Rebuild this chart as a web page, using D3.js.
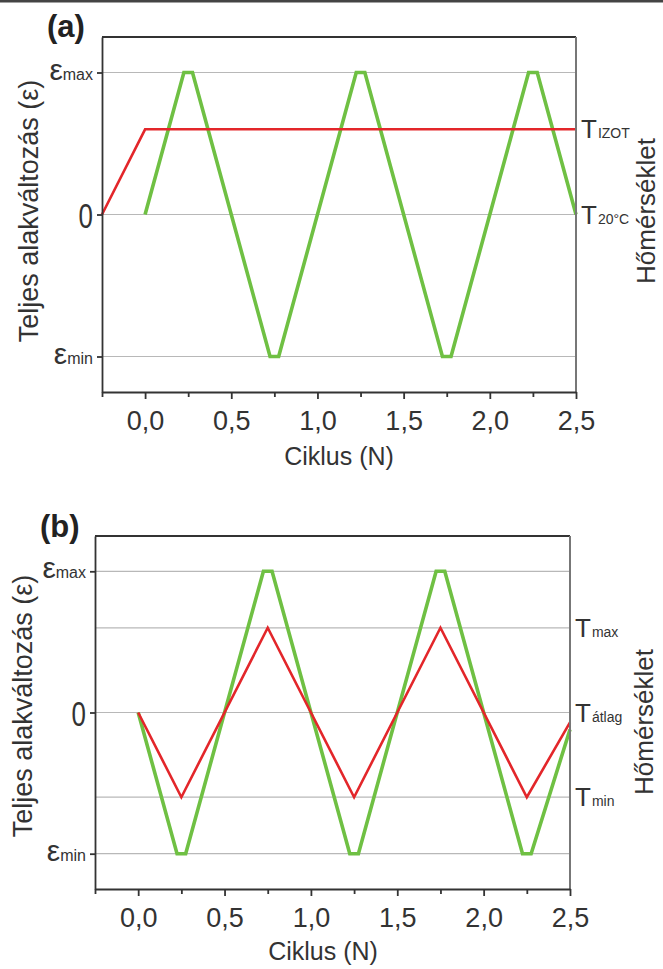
<!DOCTYPE html>
<html>
<meta charset="utf-8">
<style>
body { margin: 0; background: #fff; }
svg { display: block; font-family: "Liberation Sans", Arial, sans-serif; }
.axis path, .axis line { stroke: #333; stroke-width: 1.8; }
.grid line { stroke: #b8b8b8; stroke-width: 1.2; }
</style>
<body>
<script src="https://d3js.org/d3.v7.min.js"></script>
<script>
// y values are normalised: eps max = 1, eps min = -1
var xTicksMajor = [0, 0.5, 1, 1.5, 2, 2.5];
var xTicksMinor = [-0.25, 0.25, 0.75, 1.25, 1.75, 2.25];

// (a) izoterm
var cycleStrainA = [0, 0.225, 0.275, 0.725, 0.775, 1.225, 1.275, 1.725, 1.775, 2.225, 2.275, 2.5];
var strainA      = [0, 1, 1, -1, -1, 1, 1, -1, -1, 1, 1, 0];
var cycleTempA   = [-0.25, 0, 2.5];
var tempA        = [0, 0.6, 0.6];
var gridA        = [1, 0, -1];
var rightLabelsA = [{v: 0.6, sub: "IZOT"}, {v: 0, sub: "20°C"}];

// (b) termomechanikus
var cycleStrainB = [0, 0.225, 0.275, 0.725, 0.775, 1.225, 1.275, 1.725, 1.775, 2.225, 2.275, 2.5];
var strainB      = [0, -1, -1, 1, 1, -1, -1, 1, 1, -1, -1, -0.12];
var cycleTempB   = [0, 0.25, 0.75, 1.25, 1.75, 2.25, 2.5];
var tempB        = [0, -0.6, 0.6, -0.6, 0.6, -0.6, -0.07];
var gridB        = [1, 0.6, 0, -0.6, -1];
var rightLabelsB = [{v: 0.6, sub: "max"}, {v: 0, sub: "átlag"}, {v: -0.6, sub: "min"}];

var leftLabels = [{v: 1, sub: "max"}, {v: 0, sub: ""}, {v: -1, sub: "min"}];

var W = 663, H = 969;
var svg = d3.select("body").append("svg").attr("width", W).attr("height", H);

svg.append("rect").attr("x", 0).attr("y", 0).attr("width", W).attr("height", 2.5).attr("fill", "#444");

var locale = d3.formatLocale({decimal: ",", thousands: ".", grouping: [3], currency: ["", ""]});
var fmt = locale.format(".1f");

function panel(o) {
  var x = d3.scaleLinear().domain([-0.25, 2.5]).range([o.left, o.right]);
  var y = d3.scaleLinear().domain([-1.25, 1.25]).range([o.bottom, o.top]);
  var g = svg.append("g");

  g.append("g").attr("class", "grid")
    .selectAll("line").data(o.grid).join("line")
      .attr("x1", o.left).attr("x2", o.right)
      .attr("y1", function(d) { return y(d); })
      .attr("y2", function(d) { return y(d); });

  var line = d3.line().x(function(d) { return x(d[0]); }).y(function(d) { return y(d[1]); });

  g.append("path").datum(d3.zip(o.strainX, o.strainY))
    .attr("d", line).attr("fill", "none")
    .attr("stroke", "#6fc043").attr("stroke-width", 3.6).attr("stroke-linejoin", "miter");

  g.append("path").datum(d3.zip(o.tempX, o.tempY))
    .attr("d", line).attr("fill", "none")
    .attr("stroke", "#e3262a").attr("stroke-width", 2.6);

  // frame
  g.append("line").attr("x1", o.left).attr("x2", o.right).attr("y1", o.top).attr("y2", o.top)
    .attr("stroke", "#333").attr("stroke-width", 2);
  g.append("line").attr("x1", o.right).attr("x2", o.right).attr("y1", o.top).attr("y2", o.bottom)
    .attr("stroke", "#777").attr("stroke-width", 2);

  // x axis
  var xa = g.append("g").attr("class", "axis")
    .attr("transform", "translate(0," + o.bottom + ")")
    .call(d3.axisBottom(x).tickValues(xTicksMajor).tickSize(7).tickSizeOuter(0).tickFormat(fmt));
  xa.selectAll("text").attr("fill", "#333").attr("font-size", 27).attr("dy", null).attr("y", 38);
  g.append("g").attr("class", "axis")
    .attr("transform", "translate(0," + o.bottom + ")")
    .call(d3.axisBottom(x).tickValues(xTicksMinor).tickSize(5).tickFormat(""))
    .select(".domain").remove();

  // y axis
  var ya = g.append("g").attr("class", "axis")
    .attr("transform", "translate(" + o.left + ",0)")
    .call(d3.axisLeft(y).tickValues([-1, 0, 1]).tickSize(5).tickSizeOuter(0).tickFormat(""));
  ya.selectAll(".tick text").remove();

  leftLabels.forEach(function(l) {
    if (l.sub === "") {
      g.append("text")
        .attr("transform", "translate(" + (o.left - 9) + "," + (y(l.v) + 13) + ") scale(0.72,1)")
        .attr("text-anchor", "end").attr("fill", "#333").attr("font-size", 36)
        .text("0");
    } else {
      var t = g.append("text")
        .attr("x", o.left - 9).attr("y", y(l.v) + 7)
        .attr("text-anchor", "end").attr("fill", "#333");
      t.append("tspan").attr("font-size", 30).text("ε");
      t.append("tspan").attr("font-size", 16).text(l.sub);
    }
  });

  o.rightLabels.forEach(function(l) {
    var t = g.append("text")
      .attr("x", o.right + 5).attr("y", y(l.v) + 9)
      .attr("fill", "#333");
    t.append("tspan").attr("font-size", 26).text("T");
    t.append("tspan").attr("font-size", 14).attr("dx", 1).text(l.sub);
  });

  // titles
  g.append("text")
    .attr("x", o.labelX).attr("y", o.labelY)
    .attr("font-size", 31).attr("font-weight", "bold").attr("fill", "#222")
    .text(o.label);

  g.append("text")
    .attr("x", o.xTitleX).attr("y", o.xTitleY)
    .attr("text-anchor", "middle").attr("font-size", 25).attr("fill", "#333")
    .text("Ciklus (N)");

  g.append("text")
    .attr("transform", "translate(" + o.yTitleX + "," + o.yTitleY + ") rotate(-90)")
    .attr("text-anchor", "middle").attr("font-size", 27).attr("fill", "#333")
    .text("Teljes alakváltozás (ε)");

  g.append("text")
    .attr("transform", "translate(" + o.rTitleX + "," + o.rTitleY + ") rotate(-90)")
    .attr("text-anchor", "middle").attr("font-size", 26).attr("fill", "#333")
    .text("Hőmérséklet");
}

panel({
  left: 102, right: 576, top: 37, bottom: 392,
  strainX: cycleStrainA, strainY: strainA, tempX: cycleTempA, tempY: tempA,
  grid: gridA, rightLabels: rightLabelsA,
  label: "(a)", labelX: 47, labelY: 37,
  xTitleX: 339, xTitleY: 465,
  yTitleX: 38, yTitleY: 211,
  rTitleX: 655, rTitleY: 211
});

panel({
  left: 95, right: 570, top: 536, bottom: 889,
  strainX: cycleStrainB, strainY: strainB, tempX: cycleTempB, tempY: tempB,
  grid: gridB, rightLabels: rightLabelsB,
  label: "(b)", labelX: 40, labelY: 537,
  xTitleX: 323, xTitleY: 960,
  yTitleX: 32, yTitleY: 706,
  rTitleX: 653, rTitleY: 722
});
</script>
</body>
</html>
